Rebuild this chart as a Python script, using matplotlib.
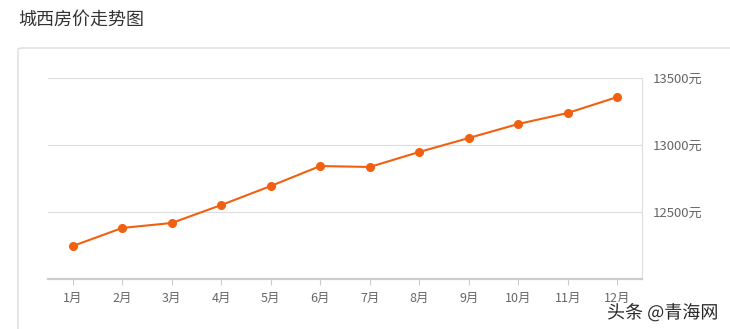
import matplotlib
matplotlib.use("Agg")
import matplotlib.pyplot as plt
import matplotlib.patheffects as pe
from matplotlib.patches import FancyBboxPatch

plt.rcParams["font.family"] = ["Noto Sans CJK SC", "DejaVu Sans"]

# ---- data --------------------------------------------------------------------
months = ["1月", "2月", "3月", "4月", "5月", "6月", "7月", "8月", "9月", "10月", "11月", "12月"]
prices = [12246, 12381, 12418, 12552, 12694, 12843, 12836, 12948, 13052, 13157, 13239, 13358]
y_ticks = [12500, 13000, 13500]
y_tick_labels = ["12500元", "13000元", "13500元"]

W, H = 730, 329
fig = plt.figure(figsize=(W / 100, H / 100), dpi=100, facecolor="white")

# card border (behind the axes)
card = FancyBboxPatch((18 / W, 1 - 340 / H), 730 / W, 292 / H,
                      boxstyle="round,pad=0,rounding_size=0.006",
                      transform=fig.transFigure, facecolor="white",
                      edgecolor="#dcdcdc", linewidth=1.0, zorder=-5)
fig.patches.append(card)

fig.text(18 / W, 1 - 20 / H, "城西房价走势图", fontsize=13, color="#333333",
         ha="left", va="center")

ax = fig.add_axes([48 / W, 1 - 279 / H, (642 - 48) / W, (279 - 78) / H])
ax.set_facecolor("none")
x = list(range(len(months)))
ax.plot(x, prices, color="#f2600f", linewidth=1.5, marker="o",
        markersize=5.5, zorder=3, clip_on=False)

ax.set_xlim(-0.5, len(months) - 0.5)
ax.set_ylim(12000, 13500)
ax.set_xticks(x)
ax.set_xticklabels(months, fontsize=9, color="#666666")
ax.yaxis.tick_right()
ax.set_yticks(y_ticks)
ax.set_yticklabels(y_tick_labels, fontsize=9.5, color="#666666")
ax.tick_params(axis="y", length=0, pad=8)
ax.tick_params(axis="x", length=4, color="#cccccc", pad=5)
ax.grid(axis="y", color="#dddddd", linewidth=0.8)
for s in ["top", "left"]:
    ax.spines[s].set_visible(False)
ax.spines["right"].set_color("#dddddd")
ax.spines["right"].set_linewidth(0.8)
ax.spines["bottom"].set_color("#cccccc")
ax.spines["bottom"].set_linewidth(1.6)
ax.set_axisbelow(True)

fig.text(718 / W, 1 - 313 / H, "头条 @青海网", fontsize=13, color="#2a2a2a",
         ha="right", va="center",
         path_effects=[pe.withStroke(linewidth=2.5, foreground="white")])

fig.savefig("out.png", dpi=100, facecolor="white")
